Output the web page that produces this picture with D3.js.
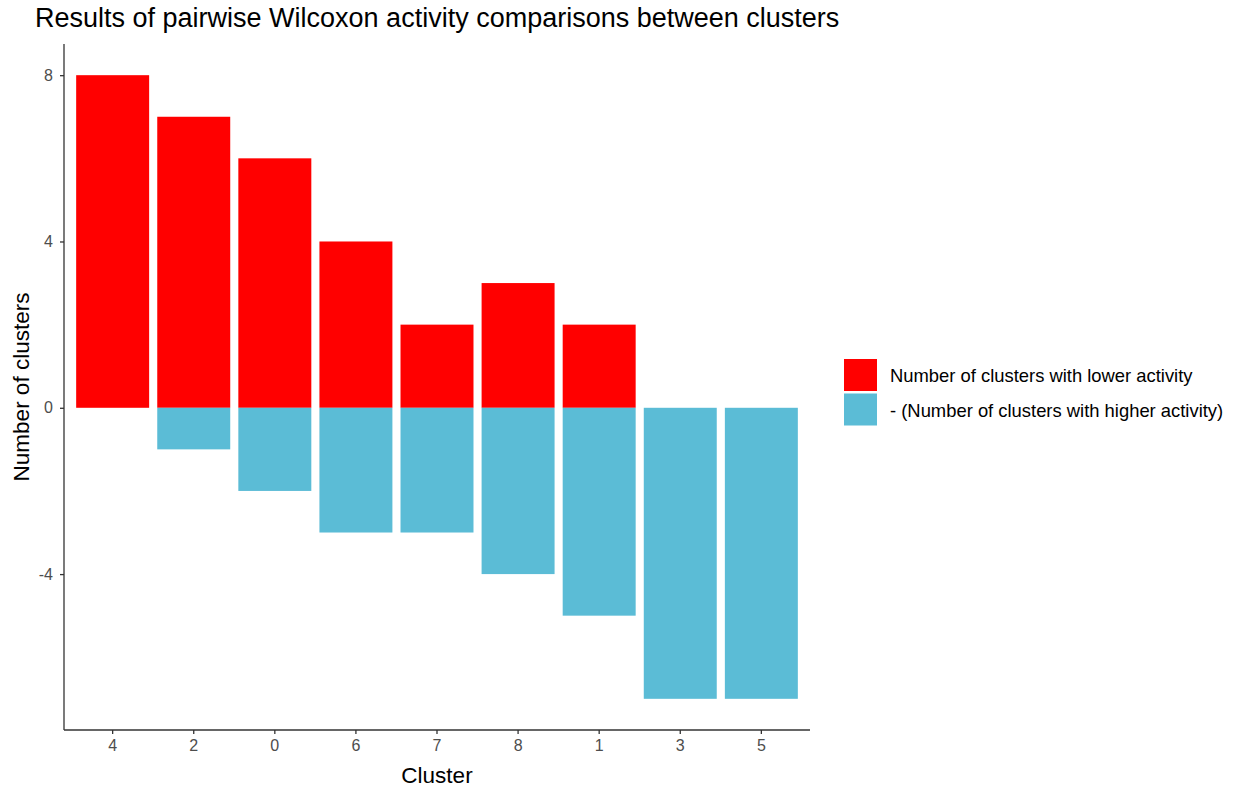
<!DOCTYPE html>
<html>
<head>
<meta charset="utf-8">
<script src="https://cdn.jsdelivr.net/npm/d3@7"></script>
<style>
  body { margin: 0; background: #fff; }
  svg { display: block; font-family: "Liberation Sans", Arial, sans-serif; }
</style>
</head>
<body>
<svg id="chart" width="1240" height="789"></svg>
<script>
// Cluster order along the x axis
const clusters = ["4", "2", "0", "6", "7", "8", "1", "3", "5"];
// Number of clusters with lower activity (drawn upward)
const lowerCounts = [8, 7, 6, 4, 2, 3, 2, 0, 0];
// Negated number of clusters with higher activity (drawn downward)
const higherCounts = [0, -1, -2, -3, -3, -4, -5, -7, -7];
const yTicks = [-4, 0, 4, 8];
const seriesNames = ["Number of clusters with lower activity", "- (Number of clusters with higher activity)"];
const seriesColors = ["#FF0000", "#5BBCD6"];

const svg = d3.select("#chart");
const m = { left: 64, right: 810, top: 44, bottom: 730 };

// Padded y range (5% expansion on each side)
const yMin = d3.min(higherCounts), yMax = d3.max(lowerCounts);
const pad = (yMax - yMin) * 0.05;
const y = d3.scaleLinear().domain([yMin - pad, yMax + pad]).range([m.bottom, m.top]);

// Discrete x scale with 0.6-step margins at both ends, bars 0.9 of a step
const x = d3.scaleBand().domain(clusters).range([m.left, m.right])
  .paddingInner(0.1).paddingOuter(0.15);

const rows = [];
clusters.forEach((c, i) => {
  rows.push({ c, v: lowerCounts[i], s: 0 });
  rows.push({ c, v: higherCounts[i], s: 1 });
});

svg.append("g").selectAll("rect").data(rows.filter(d => d.v !== 0)).join("rect")
  .attr("x", d => x(d.c))
  .attr("width", x.bandwidth())
  .attr("y", d => y(Math.max(0, d.v)))
  .attr("height", d => Math.abs(y(d.v) - y(0)))
  .attr("fill", d => seriesColors[d.s]);

// Axes
const yAxis = svg.append("g").attr("transform", `translate(${m.left},0)`)
  .call(d3.axisLeft(y).tickValues(yTicks).tickSize(4).tickPadding(7)
    .tickFormat(d => String(d)));
const xAxis = svg.append("g").attr("transform", `translate(0,${m.bottom})`)
  .call(d3.axisBottom(x).tickSize(4).tickPadding(6));
[yAxis, xAxis].forEach(g => {
  g.attr("font-size", null).attr("font-family", null);
  g.select(".domain").attr("stroke", "#333").attr("stroke-width", 1.3);
  g.selectAll(".tick line").attr("stroke", "#333").attr("stroke-width", 1.3);
  g.selectAll(".tick text").attr("fill", "#4d4d4d").style("font-size", "16px");
});
// domain lines span the full panel without end hooks
yAxis.select(".domain").attr("d", `M0,${m.top}V${m.bottom}`);
xAxis.select(".domain").attr("d", `M${m.left},0H${m.right}`);

// Titles
svg.append("text").attr("x", 35).attr("y", 27)
  .style("font-size", "27px").attr("fill", "#000")
  .text("Results of pairwise Wilcoxon activity comparisons between clusters");
svg.append("text").attr("x", (m.left + m.right) / 2).attr("y", 783)
  .attr("text-anchor", "middle").style("font-size", "22.5px").attr("fill", "#000")
  .text("Cluster");
svg.append("text")
  .attr("transform", `translate(29,${(m.top + m.bottom) / 2}) rotate(-90)`)
  .attr("text-anchor", "middle").style("font-size", "22.5px").attr("fill", "#000")
  .text("Number of clusters");

// Legend
const lg = svg.append("g").attr("transform", "translate(844,359)");
seriesNames.forEach((name, i) => {
  const g = lg.append("g").attr("transform", `translate(0,${i * 34.5})`);
  g.append("rect").attr("width", 33).attr("height", 32).attr("fill", seriesColors[i]);
  g.append("text").attr("x", 46).attr("y", 17).attr("dy", "0.35em")
    .style("font-size", "18.4px").attr("fill", "#000").text(name);
});
</script>
</body>
</html>
